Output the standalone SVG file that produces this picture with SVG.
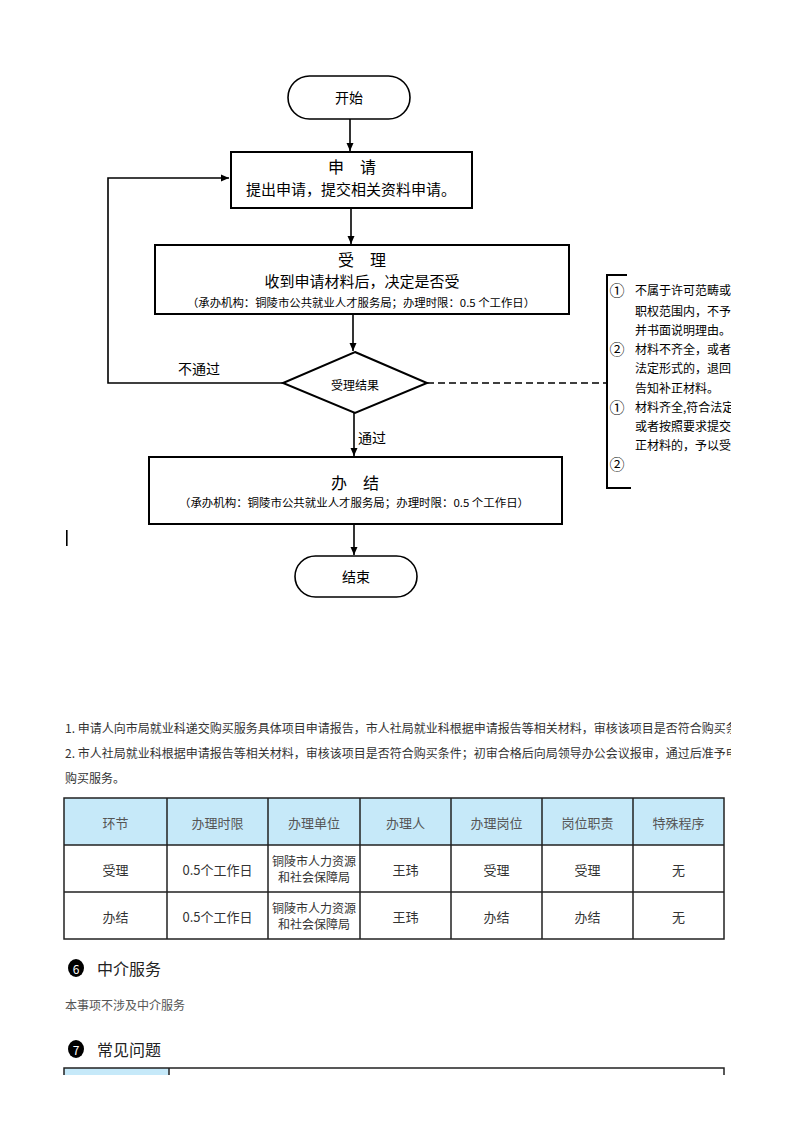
<svg xmlns="http://www.w3.org/2000/svg" width="793" height="1122" viewBox="0 0 793 1122">
<style>
text{font-family:"Noto Sans CJK SC","Liberation Sans",sans-serif;fill:#000}
.box{fill:#fff;stroke:#000;stroke-width:2}
.pill{fill:#fff;stroke:#000;stroke-width:1.6}
.conn{fill:none;stroke:#000;stroke-width:1.6}
.t15{font-size:15px}
.t16{font-size:16px}
.t14{font-size:14px}
.t12{font-size:12px}
.t11{font-size:11px}
.mid{text-anchor:middle;dominant-baseline:central}
.para{font-size:12px;fill:#333;dominant-baseline:central}
.th{fill:#c6e9f9}
.grid{fill:none;stroke:#222;stroke-width:1.5}
.tc{font-size:13px;fill:#555;text-anchor:middle;dominant-baseline:central}
.call{font-size:12px;dominant-baseline:central}
.num{font-size:15px;dominant-baseline:central;text-anchor:middle}
</style>
<defs>
<marker id="arr" markerWidth="9" markerHeight="8" refX="8" refY="4" orient="auto" markerUnits="userSpaceOnUse">
<path d="M0,0.5 L8,4 L0,7.5 z" fill="#000"/>
</marker>
<clipPath id="clipR"><rect x="0" y="0" width="731" height="1122"/></clipPath>
</defs>
<rect x="0" y="0" width="793" height="1122" fill="#fff"/>

<g id="connectors">
<path class="conn" d="M350,119 V151" marker-end="url(#arr)"/>
<path class="conn" d="M351,208 V244" marker-end="url(#arr)"/>
<path class="conn" d="M353,314 V351" marker-end="url(#arr)"/>
<path class="conn" d="M354,413 V456" marker-end="url(#arr)"/>
<path class="conn" d="M354,524 V555" marker-end="url(#arr)"/>
<path class="conn" d="M283,383 H108 V178 H229" marker-end="url(#arr)"/>
<path class="conn" d="M427,383 H607" stroke-dasharray="7,4"/>
<text class="t14 mid" x="199" y="368">不通过</text>
<text class="t14 mid" x="372" y="437">通过</text>
</g>

<g id="start">
<rect class="pill" x="288" y="76" width="122" height="43" rx="21.5"/>
<text class="t14 mid" x="349" y="97">开始</text>
</g>

<g id="apply">
<rect class="box" x="231" y="152" width="241" height="56"/>
<text class="t16 mid" x="352" y="166">申　请</text>
<text class="t15 mid" x="351" y="188">提出申请，提交相关资料申请。</text>
</g>

<g id="accept">
<rect class="box" x="155" y="245" width="414" height="69"/>
<text class="t16 mid" x="362" y="258.5">受　理</text>
<text class="t15 mid" x="362" y="280.5">收到申请材料后，决定是否受</text>
<text class="t11 mid" x="361" y="301.5" textLength="348" lengthAdjust="spacingAndGlyphs">（承办机构：铜陵市公共就业人才服务局；办理时限：0.5 个工作日）</text>
</g>

<g id="decision">
<polygon class="box" points="355,352 427,383 355,413 283,383"/>
<text class="t12 mid" x="355" y="384">受理结果</text>
</g>

<g id="finish">
<rect class="box" x="149" y="457" width="413" height="67"/>
<text class="t16 mid" x="355" y="482">办　结</text>
<text class="t11 mid" x="354" y="502" textLength="350" lengthAdjust="spacingAndGlyphs">（承办机构：铜陵市公共就业人才服务局；办理时限：0.5 个工作日）</text>
</g>

<g id="end">
<rect class="pill" x="295" y="556" width="122" height="41" rx="20.5"/>
<text class="t14 mid" x="356" y="576">结束</text>
</g>

<g id="callout">
<path d="M627,275 H607 V488 H631" fill="none" stroke="#000" stroke-width="2"/>
<g clip-path="url(#clipR)">
<text class="num" x="617" y="289">①</text>
<text class="call" x="635" y="289">不属于许可范畴或不</text>
<text class="call" x="635" y="310">职权范围内，不予受</text>
<text class="call" x="635" y="329">并书面说明理由。</text>
<text class="num" x="617" y="348">②</text>
<text class="call" x="635" y="348">材料不齐全，或者不</text>
<text class="call" x="635" y="367">法定形式的，退回并</text>
<text class="call" x="635" y="387">告知补正材料。</text>
<text class="num" x="617" y="406">①</text>
<text class="call" x="635" y="406">材料齐全,符合法定</text>
<text class="call" x="635" y="425">或者按照要求提交全</text>
<text class="call" x="635" y="444">正材料的，予以受理</text>
<text class="num" x="617" y="463">②</text>
</g>
</g>

<rect x="66" y="530" width="1.6" height="16" fill="#000"/>

<g id="paragraph" clip-path="url(#clipR)">
<text class="para" x="65" y="727">1. 申请人向市局就业科递交购买服务具体项目申请报告，市人社局就业科根据申请报告等相关材料，审核该项目是否符合购买条</text>
<text class="para" x="65" y="752">2. 市人社局就业科根据申请报告等相关材料，审核该项目是否符合购买条件；初审合格后向局领导办公会议报审，通过后准予申</text>
<text class="para" x="65" y="777">购买服务。</text>
</g>

<g id="table">
<rect class="th" x="64" y="798" width="660" height="47"/>
<rect class="grid" x="64" y="798" width="660" height="141"/>
<path class="grid" d="M64,845 H724 M64,892 H724 M167,798 V939 M268,798 V939 M360,798 V939 M451,798 V939 M542,798 V939 M633,798 V939"/>
<text class="tc" x="115.5" y="822">环节</text>
<text class="tc" x="217.5" y="822">办理时限</text>
<text class="tc" x="314" y="822">办理单位</text>
<text class="tc" x="405.5" y="822">办理人</text>
<text class="tc" x="496.5" y="822">办理岗位</text>
<text class="tc" x="587.5" y="822">岗位职责</text>
<text class="tc" x="678.5" y="822">特殊程序</text>
<text class="tc" x="115.5" y="869" style="fill:#333">受理</text>
<text class="tc" x="217.5" y="869" style="fill:#333">0.5个工作日</text>
<text class="tc" x="314" y="860.5" style="fill:#333;font-size:12px">铜陵市人力资源</text>
<text class="tc" x="314" y="876.5" style="fill:#333;font-size:12px">和社会保障局</text>
<text class="tc" x="405.5" y="869" style="fill:#333">王玮</text>
<text class="tc" x="496.5" y="869" style="fill:#333">受理</text>
<text class="tc" x="587.5" y="869" style="fill:#333">受理</text>
<text class="tc" x="678.5" y="869" style="fill:#333">无</text>
<text class="tc" x="115.5" y="916" style="fill:#333">办结</text>
<text class="tc" x="217.5" y="916" style="fill:#333">0.5个工作日</text>
<text class="tc" x="314" y="907.5" style="fill:#333;font-size:12px">铜陵市人力资源</text>
<text class="tc" x="314" y="923.5" style="fill:#333;font-size:12px">和社会保障局</text>
<text class="tc" x="405.5" y="916" style="fill:#333">王玮</text>
<text class="tc" x="496.5" y="916" style="fill:#333">办结</text>
<text class="tc" x="587.5" y="916" style="fill:#333">办结</text>
<text class="tc" x="678.5" y="916" style="fill:#333">无</text>
</g>

<g id="section6">
<ellipse cx="76" cy="968" rx="8" ry="9" fill="#000"/>
<text x="76" y="968.5" style="font-size:12px;fill:#fff;text-anchor:middle;dominant-baseline:central">6</text>
<text x="97" y="968" style="font-size:16px;fill:#222;dominant-baseline:central">中介服务</text>
<text x="65" y="1004" style="font-size:12px;fill:#555;dominant-baseline:central">本事项不涉及中介服务</text>
</g>

<g id="section7">
<ellipse cx="76" cy="1049" rx="8" ry="9" fill="#000"/>
<text x="76" y="1049.5" style="font-size:12px;fill:#fff;text-anchor:middle;dominant-baseline:central">7</text>
<text x="97" y="1049" style="font-size:16px;fill:#222;dominant-baseline:central">常见问题</text>
<rect class="th" x="64" y="1068" width="105" height="7"/>
<path class="grid" d="M64,1075 V1068 H724 V1075 M169,1068 V1075"/>
</g>
</svg>
